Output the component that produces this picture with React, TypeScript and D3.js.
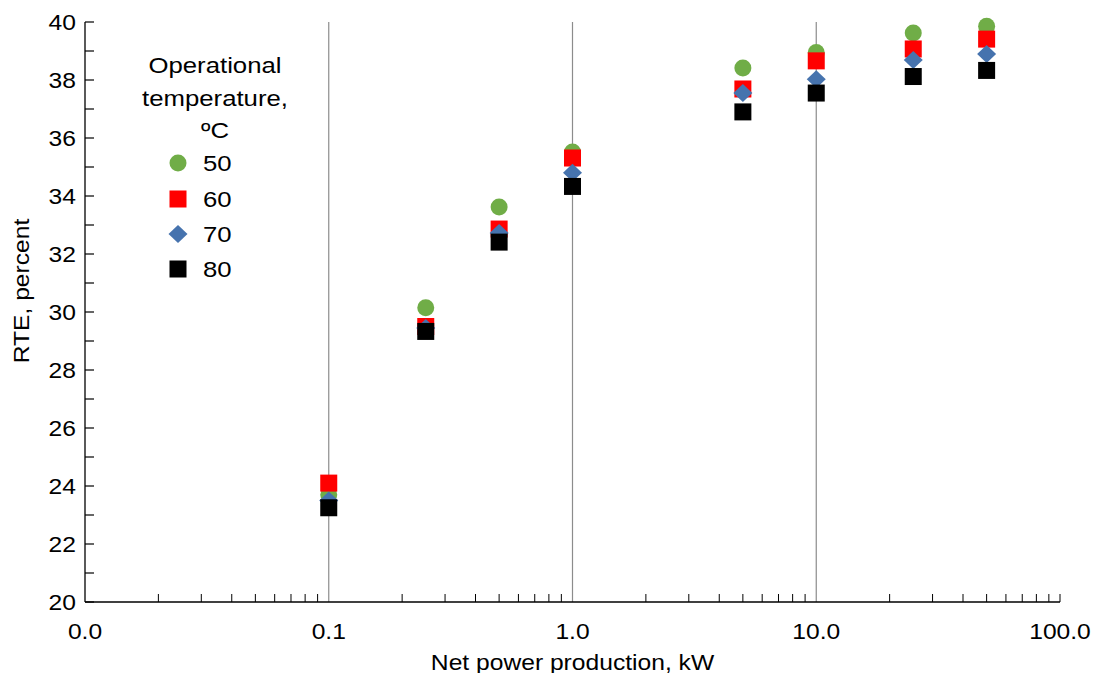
import React from "react";
import * as d3 from "d3";

// Net power production (kW) sampled for each operating temperature
const powerKW = [0.1, 0.25, 0.5, 1, 5, 10, 25, 50];

const temperatures = ["50", "60", "70", "80"];
const rte50 = [23.7, 30.15, 33.62, 35.52, 38.41, 38.95, 39.62, 39.85];
const rte60 = [24.1, 29.5, 32.86, 35.31, 37.69, 38.66, 39.07, 39.41];
const rte70 = [23.5, 29.45, 32.72, 34.8, 37.55, 38.03, 38.69, 38.9];
const rte80 = [23.25, 29.33, 32.41, 34.33, 36.9, 37.55, 38.12, 38.33];

const xTickValues = [0.01, 0.1, 1, 10, 100];
const xTickLabels = ["0.0", "0.1", "1.0", "10.0", "100.0"];
const yTickValues = [20, 22, 24, 26, 28, 30, 32, 34, 36, 38, 40];

const W = 1100;
const H = 673;
const M = { left: 85, right: 1060, top: 22, bottom: 602 };
const FONT = "'Liberation Sans', Arial, sans-serif";
const STRETCH = 1.12;

const series = [
  { name: temperatures[0], values: rte50, color: "#70AD47", shape: "circle" },
  { name: temperatures[1], values: rte60, color: "#FF0000", shape: "square" },
  { name: temperatures[2], values: rte70, color: "#4673AE", shape: "diamond" },
  { name: temperatures[3], values: rte80, color: "#000000", shape: "square" },
];

const x = d3.scaleLog().domain([0.01, 100]).range([M.left, M.right]);
const y = d3.scaleLinear().domain([20, 40]).range([M.bottom, M.top]);

function Marker({ shape, cx, cy, color }: { shape: string; cx: number; cy: number; color: string }) {
  if (shape === "circle") return <circle cx={cx} cy={cy} r={8.5} fill={color} />;
  if (shape === "diamond") {
    const p = d3.path();
    p.moveTo(cx, cy - 9);
    p.lineTo(cx + 9.5, cy);
    p.lineTo(cx, cy + 9);
    p.lineTo(cx - 9.5, cy);
    p.closePath();
    return <path d={p.toString()} fill={color} />;
  }
  return <rect x={cx - 8.5} y={cy - 8.5} width={17} height={17} fill={color} />;
}

// Text drawn with a slight widening of the glyphs along the baseline
function T({
  x: tx, y: ty, size, anchor = "middle", rotate = 0, children,
}: { x: number; y: number; size: number; anchor?: string; rotate?: number; children: React.ReactNode }) {
  return (
    <text
      transform={`translate(${tx},${ty}) rotate(${rotate}) scale(${STRETCH},1)`}
      textAnchor={anchor}
      dominantBaseline="central"
      fontFamily={FONT}
      fontSize={size}
      fill="#000"
    >
      {children}
    </text>
  );
}

export default function App() {
  const minorX: number[] = [];
  for (let e = -2; e < 2; e++) {
    for (let k = 2; k <= 9; k++) minorX.push(k * Math.pow(10, e));
  }
  const yTicksAll = d3.range(20, 41, 1);

  return (
    <svg width={W} height={H} style={{ position: "absolute", left: 0, top: 0 }}>
      <rect width={W} height={H} fill="#fff" />
      {/* vertical decade grid lines */}
      {[0.1, 1, 10].map((v) => (
        <line key={v} x1={x(v)} x2={x(v)} y1={M.top} y2={M.bottom} stroke="#8c8c8c" strokeWidth={1.2} />
      ))}
      {/* y axis with inward ticks */}
      <line x1={M.left} x2={M.left} y1={M.top} y2={M.bottom} stroke="#000" strokeWidth={1.3} />
      {yTicksAll.map((v) => (
        <line key={v} x1={M.left} x2={M.left + 9} y1={y(v)} y2={y(v)} stroke="#000" strokeWidth={1.2} />
      ))}
      {yTickValues.map((v) => (
        <T key={v} x={76} y={y(v)} size={22} anchor="end">{v}</T>
      ))}
      {/* x axis with inward minor ticks */}
      <line x1={M.left} x2={M.right} y1={M.bottom} y2={M.bottom} stroke="#000" strokeWidth={1.3} />
      {minorX.map((v) => (
        <line key={v} x1={x(v)} x2={x(v)} y1={M.bottom} y2={M.bottom - 8} stroke="#000" strokeWidth={1} />
      ))}
      <line x1={x(100)} x2={x(100)} y1={M.bottom} y2={M.bottom - 8} stroke="#000" strokeWidth={1} />
      {xTickValues.map((v, i) => (
        <T key={v} x={x(v)} y={631} size={22}>{xTickLabels[i]}</T>
      ))}
      <T x={(M.left + M.right) / 2} y={662} size={22}>Net power production, kW</T>
      <T x={21} y={291} size={22} rotate={-90}>RTE, percent</T>

      {/* data markers */}
      {series.map((s) => (
        <g key={s.name}>
          {s.values.map((v, i) => (
            <Marker key={i} shape={s.shape} cx={x(powerKW[i])} cy={y(v)} color={s.color} />
          ))}
        </g>
      ))}

      {/* legend */}
      <T x={215} y={65} size={23}>Operational</T>
      <T x={215} y={98} size={23}>temperature,</T>
      <T x={215} y={130} size={23}>ºC</T>
      {series.map((s, i) => {
        const ly = [163, 199, 234, 269][i];
        return (
          <g key={s.name}>
            <Marker shape={s.shape} cx={178} cy={ly} color={s.color} />
            <T x={203} y={ly} size={23} anchor="start">{s.name}</T>
          </g>
        );
      })}
    </svg>
  );
}
